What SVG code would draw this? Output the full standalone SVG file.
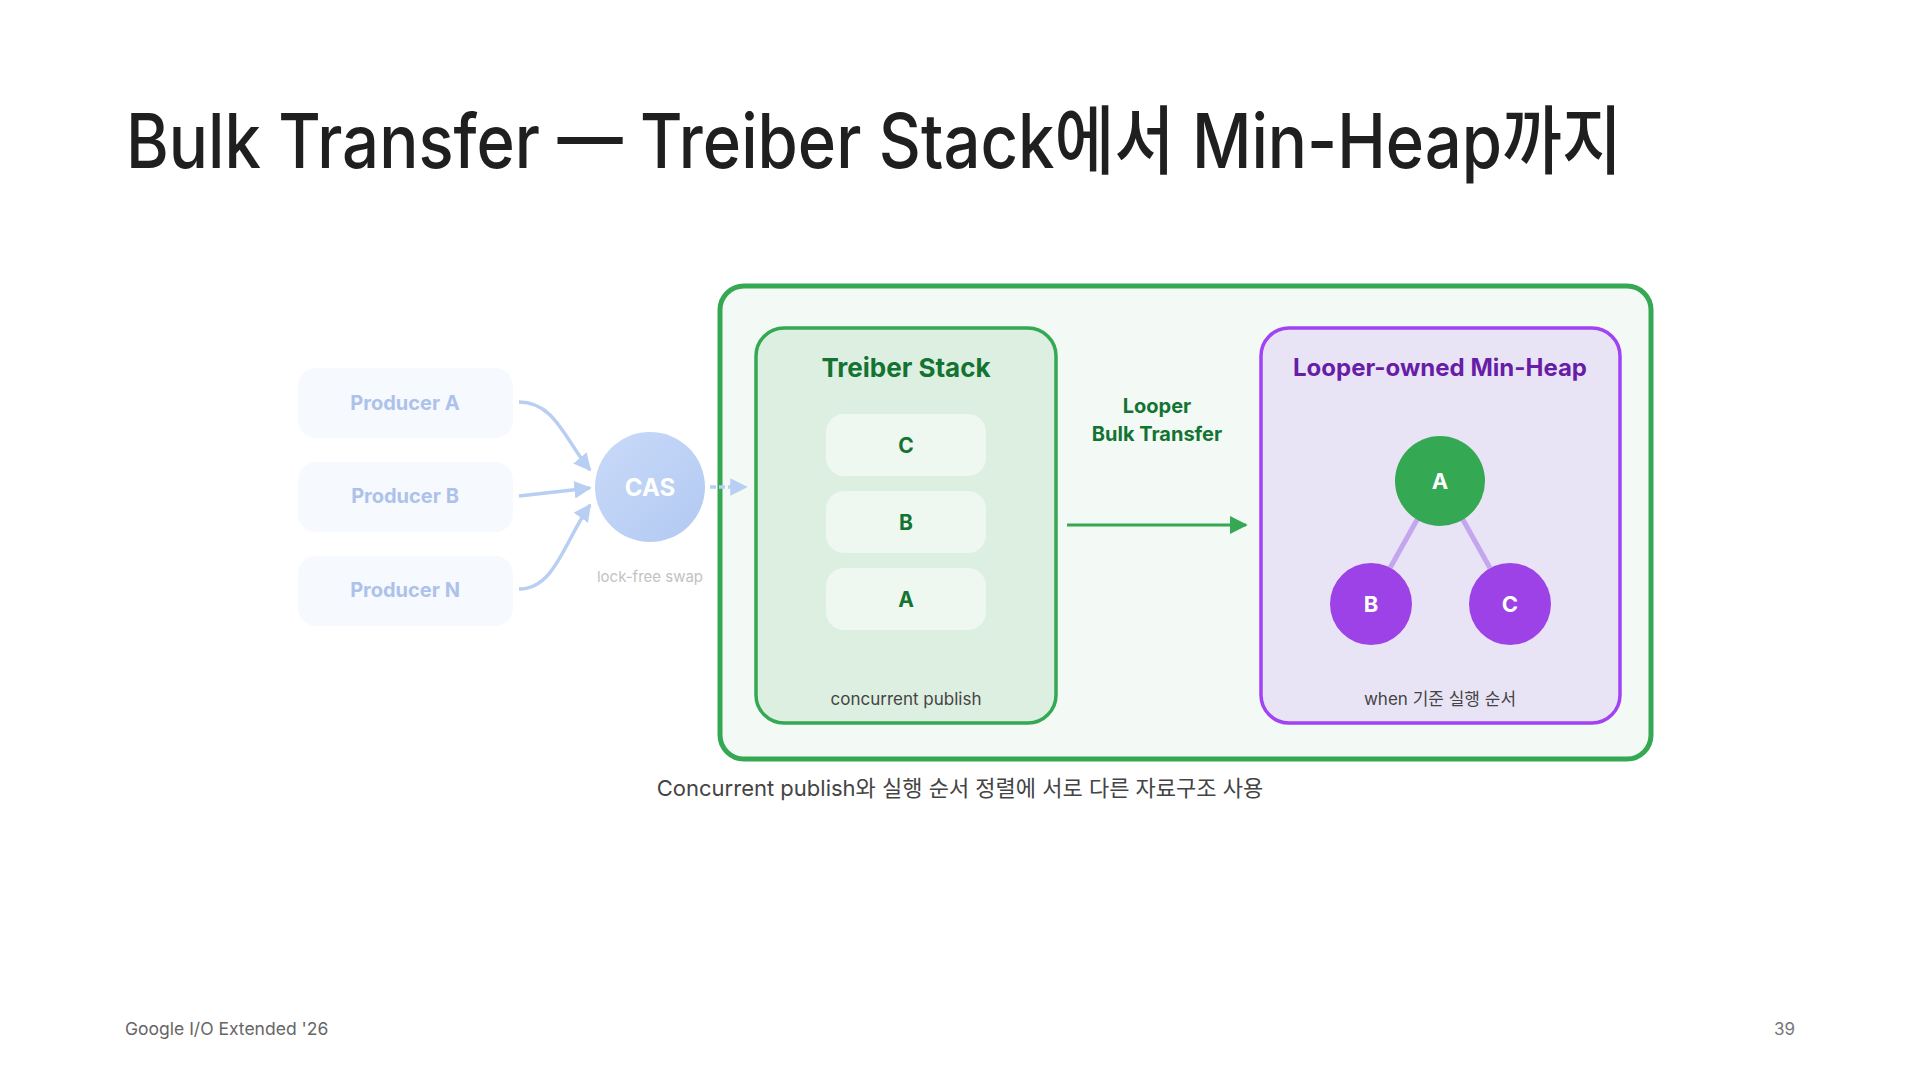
<svg xmlns="http://www.w3.org/2000/svg" width="1920" height="1080" viewBox="0 0 1920 1080">
<defs>
<style>
.f{font-family:Inter,"Noto Sans CJK KR","Noto Sans",sans-serif}
.prod{fill:#f6f9fe}
.ptxt{fill:#adc2ea;font-size:20px;font-weight:700;text-anchor:middle}
.pedge{fill:none;stroke:#b9cef3;stroke-width:3.5}
.item{fill:#eef7f0}
.itxt{fill:#137333;font-size:21px;font-weight:700;text-anchor:middle}
.sub{fill:#444;font-size:17px;text-anchor:middle}
.hn{font-size:22px;font-weight:700;fill:#fff;text-anchor:middle}
</style>
<linearGradient id="casg" x1="0" y1="0" x2="1" y2="1">
<stop offset="0" stop-color="#c8daf9"/>
<stop offset="1" stop-color="#b3c9f2"/>
</linearGradient>
<marker id="ab" viewBox="0 0 10 10" refX="9" refY="5" markerWidth="5" markerHeight="5" orient="auto" markerUnits="strokeWidth">
<path d="M0,0 L10,5 L0,10 z" fill="#b9cef3"/>
</marker>
<marker id="ag" viewBox="0 0 10 10" refX="9" refY="5" markerWidth="6" markerHeight="6" orient="auto" markerUnits="strokeWidth">
<path d="M0,0 L10,5 L0,10 z" fill="#34a853"/>
</marker>
</defs>
<rect width="1920" height="1080" fill="#ffffff"/>
<text class="f" x="126" y="168" font-size="75" font-weight="500" fill="#1f1f1f" textLength="1496" lengthAdjust="spacingAndGlyphs">Bulk Transfer — Treiber Stack에서 Min-Heap까지</text>

<g id="outer">
<rect x="720" y="286" width="931" height="473" rx="24" fill="#f3faf5" stroke="#34a853" stroke-width="5"/>
</g>

<g id="producer-a"><rect class="prod" x="298" y="368" width="215" height="70" rx="18"/><text class="f ptxt" x="405" y="410">Producer A</text></g>
<g id="producer-b"><rect class="prod" x="298" y="462" width="215" height="70" rx="18"/><text class="f ptxt" x="405" y="503">Producer B</text></g>
<g id="producer-n"><rect class="prod" x="298" y="556" width="215" height="70" rx="18"/><text class="f ptxt" x="405" y="597">Producer N</text></g>

<g id="cas">
<circle cx="650" cy="487" r="55" fill="url(#casg)"/>
<text class="f" x="650" y="496" font-size="24" font-weight="700" fill="#fff" text-anchor="middle">CAS</text>
<text class="f" x="650" y="582" font-size="15" fill="#c2c2c2" text-anchor="middle">lock-free swap</text>
</g>

<g id="treiber-stack">
<rect x="756" y="328" width="300" height="395" rx="28" fill="#ddefe1" stroke="#34a853" stroke-width="3.5"/>
<text class="f" x="906" y="377" font-size="26" font-weight="700" fill="#137333" text-anchor="middle">Treiber Stack</text>
<g id="item-c"><rect class="item" x="826" y="414" width="160" height="62" rx="18"/><text class="f itxt" x="906" y="453">C</text></g>
<g id="item-b"><rect class="item" x="826" y="491" width="160" height="62" rx="18"/><text class="f itxt" x="906" y="530">B</text></g>
<g id="item-a"><rect class="item" x="826" y="568" width="160" height="62" rx="18"/><text class="f itxt" x="906" y="607">A</text></g>
<text class="f sub" x="906" y="705">concurrent publish</text>
</g>

<g id="transfer-label">
<text class="f" x="1157" y="413" font-size="20" font-weight="700" fill="#137333" text-anchor="middle">Looper</text>
<text class="f" x="1157" y="441" font-size="20" font-weight="700" fill="#137333" text-anchor="middle">Bulk Transfer</text>
</g>

<g id="min-heap">
<rect x="1261" y="328" width="359" height="395" rx="28" fill="#e9e4f5" stroke="#a142f4" stroke-width="3.5"/>
<text class="f" x="1440" y="376" font-size="24" font-weight="700" fill="#681da8" text-anchor="middle">Looper-owned Min-Heap</text>
<line x1="1418" y1="518" x2="1390" y2="568" stroke="#c3a6ee" stroke-width="5"/>
<line x1="1462" y1="518" x2="1490" y2="568" stroke="#c3a6ee" stroke-width="5"/>
<g id="heap-a"><circle cx="1440" cy="481" r="45" fill="#34a853"/><text class="f hn" x="1440" y="489">A</text></g>
<g id="heap-b"><circle cx="1371" cy="604" r="41" fill="#9c42e6"/><text class="f hn" x="1371" y="612">B</text></g>
<g id="heap-c"><circle cx="1510" cy="604" r="41" fill="#9c42e6"/><text class="f hn" x="1510" y="612">C</text></g>
<text class="f sub" x="1440" y="705">when 기준 실행 순서</text>
</g>

<g id="connectors">
<path class="pedge" d="M519,402 C555,402 565,440 590,470" marker-end="url(#ab)"/>
<path class="pedge" d="M519,496 L590,488" marker-end="url(#ab)"/>
<path class="pedge" d="M519,589 C555,589 565,540 590,505" marker-end="url(#ab)"/>
<path d="M710,487 L746,487" fill="none" stroke="#b9cef3" stroke-width="3.5" stroke-dasharray="6,3" marker-end="url(#ab)"/>
<path d="M1067,525 L1246,525" fill="none" stroke="#34a853" stroke-width="3" marker-end="url(#ag)"/>
</g>

<text class="f" x="960" y="796" font-size="22" fill="#444" text-anchor="middle">Concurrent publish와 실행 순서 정렬에 서로 다른 자료구조 사용</text>
<text class="f" x="125" y="1035" font-size="17.5" fill="#666">Google I/O Extended '26</text>
<text class="f" x="1795" y="1035" font-size="17" fill="#777" text-anchor="end">39</text>
</svg>
